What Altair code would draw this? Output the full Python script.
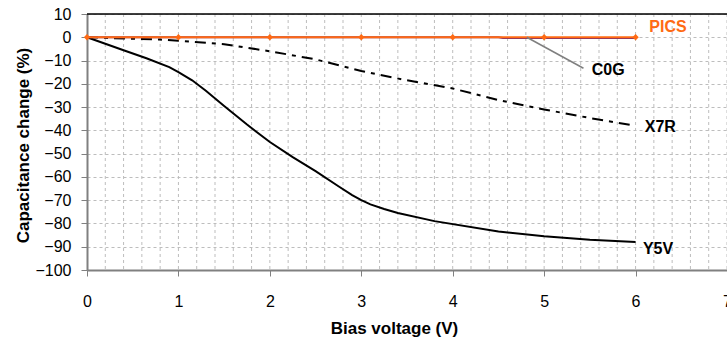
import altair as alt
import pandas as pd

# ---- data ----
volt_y5v = [0, 0.4, 0.65, 0.9, 1.0, 1.15, 1.3, 1.5, 1.75, 2.0, 2.25, 2.5, 2.75, 2.9, 3.0, 3.1, 3.25, 3.4, 3.8, 4.5, 5.0, 5.5, 6.0]
cap_y5v = [0, -5.6, -9, -12.8, -15, -18.5, -23, -29.5, -37.5, -45, -51.5, -57.5, -64, -67.8, -70, -71.8, -73.8, -75.5, -79, -83.5, -85.5, -87, -88]

volt_x7r = [0, 0.8, 1.0, 1.5, 2.0, 2.5, 3.0, 3.5, 4.0, 4.5, 5.0, 5.5, 6.0]
cap_x7r = [0, -1, -1.5, -3, -6, -9.5, -14.5, -18.5, -22, -27, -31, -34.7, -38]

volt_c0g = [0, 1, 2, 3, 4, 4.5, 4.55, 5, 6]
cap_c0g = [0, 0, 0, 0, 0, 0, -0.3, -0.3, -0.3]

volt_pics = [0, 1, 2, 3, 4, 5, 6]
cap_pics = [0, 0, 0, 0, 0, 0, 0]

label_text = ["C0G", "X7R", "Y5V"]
label_x = [5.52, 6.1, 6.08]
label_y = [-14.2, -38.6, -91]

pics_label_x = [6.15]
pics_label_y = [4.3]

c0g_leader_x = [4.81]
c0g_leader_y = [0]
c0g_leader_x2 = [5.43]
c0g_leader_y2 = [-13.3]

x_tick_values = [0, 1, 2, 3, 4, 5, 6, 7]
x_grid_values = [round(i * 0.2, 1) for i in range(1, 36)]
y_values = list(range(-100, 11, 10))

ORANGE = "#FF6A13"
PURPLE = "#7B2C6E"
FONT = "Liberation Sans"

df_y5v = pd.DataFrame({"v": volt_y5v, "c": cap_y5v})
df_x7r = pd.DataFrame({"v": volt_x7r, "c": cap_x7r})
df_c0g = pd.DataFrame({"v": volt_c0g, "c": cap_c0g})
df_pics = pd.DataFrame({"v": volt_pics, "c": cap_pics})
df_lab = pd.DataFrame({"t": label_text, "v": label_x, "c": label_y})
df_pl = pd.DataFrame({"t": ["PICS"], "v": pics_label_x, "c": pics_label_y})
df_lead = pd.DataFrame({"v": c0g_leader_x, "c": c0g_leader_y, "v2": c0g_leader_x2, "c2": c0g_leader_y2})
df_top = pd.DataFrame({"v": [0], "c": [10], "v2": [7]})
df_vgrid = pd.DataFrame({"v": x_grid_values, "c": [10] * len(x_grid_values), "c2": [-100] * len(x_grid_values)})

xscale = alt.Scale(domain=[0, 7], nice=False, zero=False)
yscale = alt.Scale(domain=[-100, 10], nice=False, zero=False)

xaxis = alt.Axis(
    values=x_tick_values,
    format="d",
    tickColor="#808080",
    tickSize=6,
    domainColor="#808080",
    domainWidth=2,
    grid=False,
    labelFont=FONT,
    labelFontSize=16,
    labelColor="#000000",
    labelPadding=17,
    labelFlush=False,
    labelOverlap=False,
    title="Bias voltage (V)",
    titleFont=FONT,
    titleFontSize=17,
    titleFontWeight="bold",
    titleColor="#000000",
    titleX=307,
    titleY=58,
    titleAlign="center",
    titleBaseline="middle",
)

yaxis = alt.Axis(
    values=y_values,
    format="d",
    tickColor="#808080",
    tickSize=6,
    domainColor="#808080",
    domainWidth=2,
    grid=True,
    gridColor="#BDBDBD",
    gridDash=[3, 3],
    gridWidth=1,
    labelFont=FONT,
    labelFontSize=16,
    labelColor="#000000",
    labelPadding=10,
    labelFlush=False,
    labelOverlap=False,
    title="Capacitance change (%)",
    titleFont=FONT,
    titleFontSize=17,
    titleFontWeight="bold",
    titleColor="#000000",
    titleAngle=-90,
    titleX=-64,
    titleY=131,
    titleAlign="center",
    titleBaseline="middle",
)

X = alt.X("v:Q", scale=xscale, axis=xaxis)
Y = alt.Y("c:Q", scale=yscale, axis=yaxis)

vgrid = alt.Chart(df_vgrid).mark_rule(color="#BDBDBD", strokeWidth=1, strokeDash=[3, 3]).encode(
    x=X, y=Y, y2="c2:Q"
)
y5v = alt.Chart(df_y5v).mark_line(color="black", strokeWidth=2).encode(x=X, y=Y)
x7r = alt.Chart(df_x7r).mark_line(color="black", strokeWidth=2, strokeDash=[11, 6, 4, 6]).encode(x=X, y=Y)
c0g = alt.Chart(df_c0g).mark_line(color=PURPLE, strokeWidth=2).encode(x=X, y=Y)
pics = alt.Chart(df_pics).mark_line(color=ORANGE, strokeWidth=2).encode(x=X, y=Y)
pics_pts = alt.Chart(df_pics).mark_point(shape="diamond", filled=True, color=ORANGE, size=40, opacity=1).encode(
    x=X, y=Y
)
lead = alt.Chart(df_lead).mark_rule(color="#7F7F7F", strokeWidth=1.5).encode(
    x=X, y=Y, x2="v2:Q", y2="c2:Q"
)
labels = alt.Chart(df_lab).mark_text(
    align="left", baseline="middle", font=FONT, fontSize=16, fontWeight="bold", color="black"
).encode(x=X, y=Y, text="t:N")
pics_label = alt.Chart(df_pl).mark_text(
    align="left", baseline="middle", font=FONT, fontSize=16, fontWeight="bold", color=ORANGE
).encode(x=X, y=Y, text="t:N")
top_border = alt.Chart(df_top).mark_rule(color="black", strokeWidth=1.5).encode(
    x=X, y=Y, x2="v2:Q"
)

chart = alt.layer(
    vgrid, y5v, x7r, c0g, pics, pics_pts, lead, labels, pics_label, top_border
).properties(
    width=640,
    height=256,
    autosize=alt.AutoSizeParams(type="none"),
    padding={"left": 87, "top": 14, "right": 0, "bottom": 72},
).configure_view(stroke=None).configure(background="white")

chart.save("out.html", embed_options={"renderer": "svg", "actions": False})
